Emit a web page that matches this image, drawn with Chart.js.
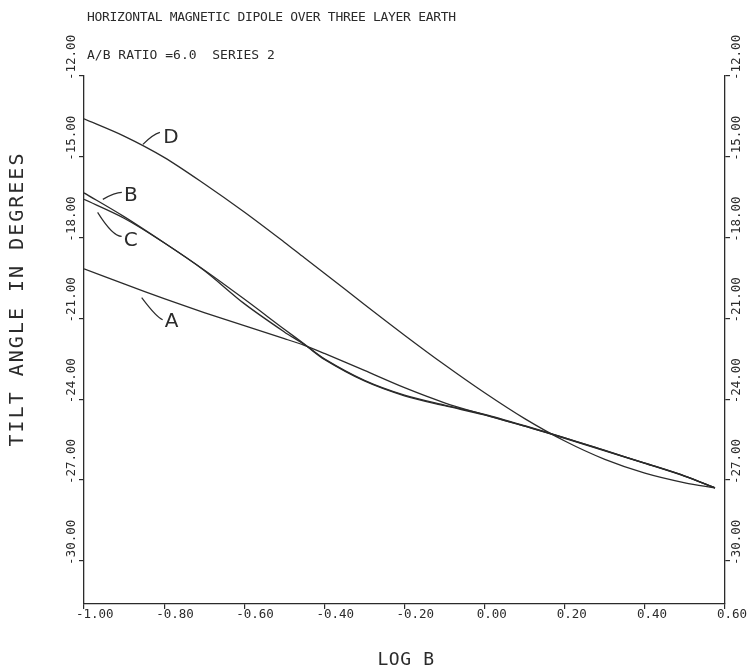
<!DOCTYPE html>
<html>
<head>
<meta charset="utf-8">
<script src="https://cdn.jsdelivr.net/npm/chart.js@4.4.1/dist/chart.umd.min.js"></script>
<style>
  body { margin: 0; background: #fff; }
  #wrap { width: 752px; height: 671px; }
</style>
</head>
<body>
<div id="wrap"><canvas id="tiltChart" width="752" height="671"></canvas></div>
<script>
// values
const logB = [-1.0, -0.9, -0.8, -0.7, -0.6, -0.5, -0.45, -0.4, -0.3, -0.2, -0.1, 0.0, 0.1, 0.2, 0.3, 0.4, 0.5, 0.575];
const curveA = [-19.16, -19.72, -20.26, -20.78, -21.27, -21.75, -22.0, -22.3, -22.93, -23.57, -24.13, -24.58, -25.0, -25.43, -25.9, -26.37, -26.85, -27.29];
const curveB = [-16.34, -17.22, -18.19, -19.2, -20.28, -21.4, -21.95, -22.5, -23.3, -23.85, -24.22, -24.56, -24.98, -25.43, -25.9, -26.37, -26.85, -27.29];
const curveC = [-16.58, -17.28, -18.19, -19.22, -20.45, -21.5, -21.97, -22.52, -23.32, -23.87, -24.24, -24.58, -25.0, -25.45, -25.92, -26.38, -26.86, -27.29];
const curveD = [-13.59, -14.23, -15.02, -16.0, -17.05, -18.17, -18.75, -19.32, -20.48, -21.62, -22.72, -23.76, -24.72, -25.55, -26.23, -26.74, -27.1, -27.29];

const xTicks = [-1.0, -0.8, -0.6, -0.4, -0.2, 0, 0.2, 0.4, 0.6];
const yTicks = [-30, -27, -24, -21, -18, -15, -12];

const ink = '#2b2b2b';
const mono = '"DejaVu Sans Mono", monospace';

// where each curve letter hangs (anchor in data units, offsets in px)
const curveLabels = [
  { text: 'D', at: [-0.853, -14.54], corner: [10, -10], end: [17, -12], pos: [28, -8] },
  { text: 'B', at: [-0.953, -16.58], corner: [12, -7], end: [19, -7], pos: [28, -5] },
  { text: 'C', at: [-0.966, -17.06], corner: [15, 24], end: [24, 24], pos: [33, 27] },
  { text: 'A', at: [-0.856, -20.23], corner: [15, 20], end: [21, 22], pos: [30, 23] }
];

function toPoints(ys) {
  return logB.map((x, i) => ({ x: x, y: ys[i] }));
}

function line(ys) {
  return {
    data: toPoints(ys),
    showLine: true,
    borderColor: ink,
    borderWidth: 1.3,
    pointRadius: 0,
    tension: 0.3,
    fill: false
  };
}

function rotText(ctx, txt, x, y, align) {
  ctx.save();
  ctx.translate(x, y);
  ctx.rotate(-Math.PI / 2);
  ctx.textAlign = align;
  ctx.textBaseline = 'middle';
  ctx.fillText(txt, 0, 0);
  ctx.restore();
}

const textPlugin = {
  id: 'plotText',
  afterDraw(chart) {
    const ctx = chart.ctx;
    const sx = chart.scales.x, sy = chart.scales.y;
    ctx.save();
    ctx.fillStyle = ink;
    ctx.strokeStyle = ink;
    ctx.textBaseline = 'middle';
    ctx.textAlign = 'left';

    ctx.font = '13px ' + mono;
    ctx.letterSpacing = '-0.3px';
    ctx.fillText('HORIZONTAL MAGNETIC DIPOLE OVER THREE LAYER EARTH', 87, 18);
    ctx.letterSpacing = '0px';
    ctx.fillText('A/B RATIO =6.0  SERIES 2', 87, 56);

    // tick labels
    ctx.font = '12.5px ' + mono;
    xTicks.forEach(v => {
      ctx.fillText(v.toFixed(2), sx.getPixelForValue(v) - 8, 615);
    });
    yTicks.forEach(v => {
      const py = sy.getPixelForValue(v);
      rotText(ctx, v.toFixed(2), 72, py + 4, 'left');
      rotText(ctx, v.toFixed(2), 737, py + 4, 'left');
    });

    // axis titles
    ctx.font = '20px ' + mono;
    ctx.letterSpacing = '2px';
    rotText(ctx, 'TILT ANGLE IN DEGREES', 18, 299, 'center');
    ctx.font = '18px ' + mono;
    ctx.letterSpacing = '0.6px';
    ctx.textAlign = 'center';
    ctx.fillText('LOG B', 406, 660);
    ctx.letterSpacing = '0px';

    // curve letters with leaders
    ctx.lineWidth = 1.2;
    ctx.font = '20px "DejaVu Sans", sans-serif';
    curveLabels.forEach(l => {
      const x0 = sx.getPixelForValue(l.at[0]);
      const y0 = sy.getPixelForValue(l.at[1]);
      ctx.beginPath();
      ctx.moveTo(x0, y0);
      ctx.quadraticCurveTo(x0 + l.corner[0], y0 + l.corner[1], x0 + l.end[0], y0 + l.end[1]);
      ctx.stroke();
      ctx.textAlign = 'center';
      ctx.fillText(l.text, x0 + l.pos[0], y0 + l.pos[1] + 1);
    });
    ctx.restore();
  }
};

const axisGrid = { drawOnChartArea: false, drawTicks: true, tickLength: 5, color: ink, lineWidth: 1.2 };
const axisBorder = { display: true, color: ink, width: 1.3 };

new Chart(document.getElementById('tiltChart'), {
  type: 'scatter',
  data: {
    datasets: [line(curveA), line(curveB), line(curveC), line(curveD)]
  },
  options: {
    responsive: false,
    animation: false,
    layout: { padding: { top: 76, left: 0, right: 0, bottom: 0 } },
    plugins: {
      legend: { display: false },
      tooltip: { enabled: false },
      title: { display: false }
    },
    scales: {
      x: {
        type: 'linear', position: 'bottom', min: -1, max: 0.6,
        afterBuildTicks: s => { s.ticks = xTicks.map(v => ({ value: v })); },
        afterFit: s => { s.height = 67; },
        ticks: { display: false },
        grid: axisGrid, border: axisBorder
      },
      y: {
        type: 'linear', position: 'left', min: -31.6, max: -12,
        afterBuildTicks: s => { s.ticks = yTicks.map(v => ({ value: v })); },
        afterFit: s => { s.width = 84; },
        ticks: { display: false },
        grid: axisGrid, border: axisBorder
      },
      y2: {
        type: 'linear', position: 'right', min: -31.6, max: -12,
        afterBuildTicks: s => { s.ticks = yTicks.map(v => ({ value: v })); },
        afterFit: s => { s.width = 27; },
        ticks: { display: false },
        grid: axisGrid, border: axisBorder
      }
    }
  },
  plugins: [textPlugin]
});
</script>
</body>
</html>
